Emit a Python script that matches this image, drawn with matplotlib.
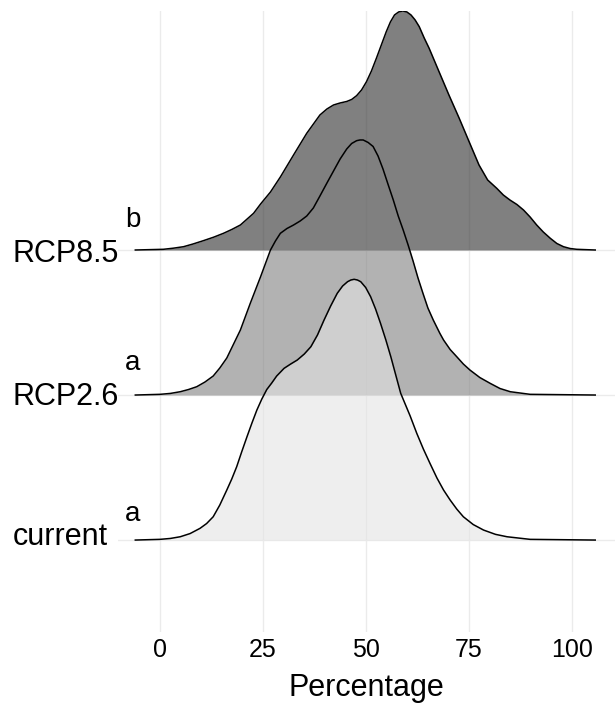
import numpy as np
import matplotlib
matplotlib.use("Agg")
import matplotlib.pyplot as plt
from matplotlib import transforms

plt.rcParams['font.family'] = ['Liberation Sans', 'DejaVu Sans']

ridge_step = 145.0

rcp85_x = [-6, 0.8, 3.2, 5.7, 8, 10.5, 13, 15.4, 17.4, 19.5, 22.7, 24.4, 26.8, 29.2, 32.4,
           35.6, 38.8, 40.5, 42.1, 43.7, 45.3, 46.5, 47.7, 48.9, 50.1, 51.3, 52.5, 53.7,
           54.9, 55.9, 56.9, 57.9, 58.9, 59.9, 60.9, 61.9, 62.9, 64.1, 65.3, 66.5, 67.7,
           70.1, 72.6, 75, 77.4, 79.5, 81.7, 83.3, 84.9, 86.6, 88.2, 89.8, 91.4, 93,
           94.7, 96.3, 97.9, 99.5, 101.1, 105.6]
rcp85_h = [0, 0.7, 1.8, 3.3, 6, 9.3, 12.8, 16.7, 20.5, 25, 36.7, 46, 58, 73, 95,
           116.7, 135, 141, 145, 147, 148.5, 150.5, 154.3, 160, 168.3, 179, 191.7, 205,
           218.3, 228, 235, 238, 239, 238, 235, 230, 223.3, 212, 201.7, 190, 178.3,
           155, 131.7, 108.3, 85, 70, 61.7, 55, 50, 45.5, 40, 33, 25, 18,
           11.7, 6.5, 3.3, 1.5, 0.7, 0]

rcp26_x = [-6, 0, 2.5, 4.9, 6.9, 8.9, 10.9, 12.9, 14.5, 16.2, 19.5, 21.9, 24.4, 26.8, 28,
           29.2, 30.8, 32.4, 34, 35.6, 37.2, 38.8, 40.5, 42.1, 43.7, 45.3, 46.5, 47.7,
           48.5, 49.3, 50.5, 51.7, 52.9, 54.1, 55.3, 56.6, 57.8, 59, 60.2, 61.4, 62.6,
           63.8, 65, 66.3, 67.9, 68.8, 70.4, 72, 73.6, 75.2, 77.6, 80.1, 82.5, 85, 89.8,
           105.6]
rcp26_h = [0, 0.7, 1.6, 3.3, 5.5, 8.3, 13, 19, 27, 37, 65, 91.7, 118.3, 145, 154,
           161.7, 166.5, 170, 174, 179, 187, 199, 212, 224, 236, 246, 251.5, 254.3,
           255, 255, 252.5, 248.5, 239, 226, 211, 195, 179, 165, 150, 134, 117,
           101.7, 87, 75, 61.7, 55, 45.5, 38.3, 31, 25, 17.5, 11.7, 6.5, 3.3, 0.7,
           0]

current_x = [-6, 0, 2.5, 4.9, 7.3, 9.7, 11.3, 12.9, 14.5, 16.2, 17.4, 18.6, 19.8, 21.1,
             22.3, 23.5, 24.7, 25.9, 27.1, 28.3, 30.1, 31.7, 33.3, 35, 36.6, 38.2, 39.8,
             41.4, 43, 44.3, 45.5, 46.3, 47.1, 47.9, 48.7, 49.9, 51.1, 52.3, 53.5, 54.8,
             56, 57.2, 58.4, 60.7, 62.3, 63.9, 65.5, 67.2, 68.8, 70.4, 72, 73.6, 76,
             78.5, 81.4, 84.2, 89.8, 105.6]
current_h = [0, 0.7, 1.6, 3.3, 6.5, 11.7, 16.5, 23.3, 35, 50, 61, 73.3, 88, 103.3,
             117, 130, 141, 150.5, 157, 164, 171.7, 176, 180, 186, 193.3, 205, 220,
             234, 246.7, 254, 258.3, 260, 260.7, 260, 258.3, 252.5, 243.3, 231, 216.7, 200,
             183.3, 165, 146.7, 124, 106.7, 91, 76.7, 62, 50, 40, 31, 23.3, 15.5,
             10, 5.7, 3.3, 0.7, 0]

groups = ["current", "RCP2.6", "RCP8.5"]
letters = ["a", "a", "b"]
x_ticks = [0, 25, 50, 75, 100]

ridges = {
    "current": (current_x, current_h, "#e4e4e4"),
    "RCP2.6": (rcp26_x, rcp26_h, "#808080"),
    "RCP8.5": (rcp85_x, rcp85_h, "#2b2b2b"),
}

fig = plt.figure(figsize=(6.15, 7.04), dpi=100)
ax = fig.add_axes([118 / 615, 72 / 704, 497 / 615, 621 / 704])

# top ridge first, lower ridges drawn over it
for i in range(len(groups) - 1, -1, -1):
    name = groups[i]
    xs, hs, col = ridges[name]
    xs = np.array(xs)
    ys = i + np.array(hs) / ridge_step
    z = 10 + (len(groups) - i) * 2
    ax.fill_between(xs, i, ys, color=col, alpha=0.6, linewidth=0, zorder=z)
    ax.plot(xs, ys, color="black", lw=1.1, zorder=z + 1, solid_joinstyle="round")

ax.set_xlim(-10.2, 110.4)
ax.set_ylim(-0.634, 3.648)
ax.set_xticks(x_ticks)
ax.set_xticklabels([str(t) for t in x_ticks], fontsize=18)
ax.set_yticks(range(len(groups)))
ax.set_yticklabels([])
ax.tick_params(length=0)
ax.tick_params(axis="x", pad=4)
ax.grid(True, color="#ebebeb", lw=1.0, zorder=0)
ax.set_axisbelow(True)
for s in ax.spines.values():
    s.set_visible(False)
ax.set_xlabel("Percentage", fontsize=22, labelpad=8)

trans = transforms.blended_transform_factory(fig.transFigure, ax.transData)
label_off = [0.035, 0.07, 0.08]
letter_off = [0.13, 0.17, 0.16]
for i, name in enumerate(groups):
    ax.text(12.7 / 615, i - label_off[i], name, transform=trans, fontsize=22,
            ha="left", va="baseline")
    ax.text(-6.6, i + letter_off[i], letters[i], fontsize=20, ha="center",
            va="baseline", clip_on=False)

fig.savefig("out.png", dpi=100)
